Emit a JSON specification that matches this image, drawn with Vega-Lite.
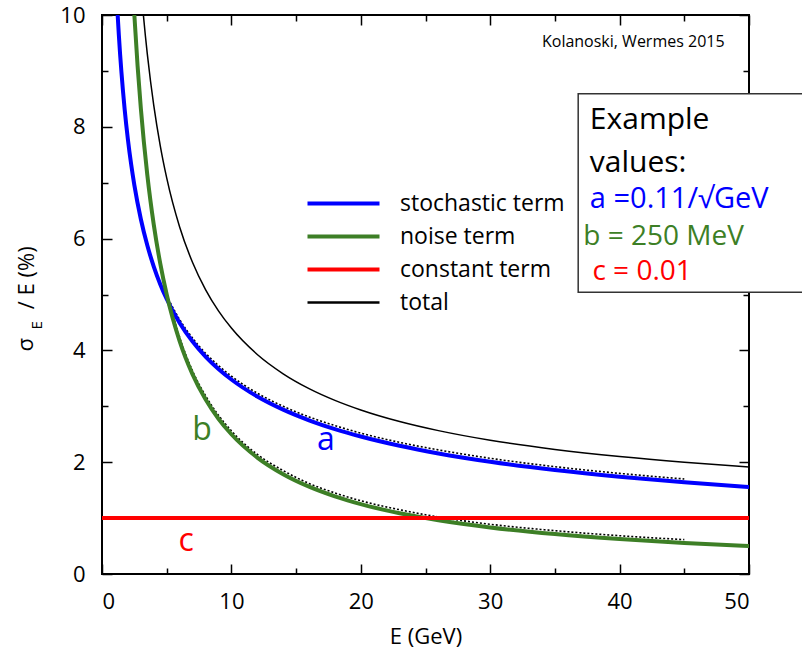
{
  "$schema": "https://vega.github.io/schema/vega-lite/v6.json",
  "width": 647,
  "height": 559,
  "autosize": {"type": "none"},
  "padding": {"left": 102, "top": 15, "right": 53, "bottom": 83},
  "background": "white",
  "config": {
    "view": {"stroke": "black", "strokeWidth": 2},
    "axis": {"domain": false, "grid": false, "tickColor": "black", "tickWidth": 1.5, "labelFont": "Open Sans", "labelFontSize": 22, "labelColor": "black", "titleFont": "Open Sans", "titleFontSize": 22, "titleFontWeight": "normal", "titleColor": "black"},
    "text": {"font": "Open Sans"}
  },
  "layer": [
    {
      "data": {"values": [
        {"E": 5, "v": 4.98, "s": "a"}, {"E": 6, "v": 4.55, "s": "a"}, {"E": 7, "v": 4.22, "s": "a"}, {"E": 8, "v": 3.95, "s": "a"}, {"E": 9, "v": 3.73, "s": "a"}, {"E": 10, "v": 3.54, "s": "a"}, {"E": 12, "v": 3.235, "s": "a"}, {"E": 14, "v": 3.0, "s": "a"}, {"E": 16, "v": 2.81, "s": "a"}, {"E": 18, "v": 2.655, "s": "a"}, {"E": 20, "v": 2.52, "s": "a"}, {"E": 23, "v": 2.355, "s": "a"}, {"E": 26, "v": 2.22, "s": "a"}, {"E": 30, "v": 2.07, "s": "a"}, {"E": 35, "v": 1.92, "s": "a"}, {"E": 40, "v": 1.8, "s": "a"}, {"E": 45, "v": 1.7, "s": "a"},
        {"E": 5.5, "v": 4.61, "s": "b"}, {"E": 6, "v": 4.23, "s": "b"}, {"E": 7, "v": 3.63, "s": "b"}, {"E": 8, "v": 3.19, "s": "b"}, {"E": 9, "v": 2.84, "s": "b"}, {"E": 10, "v": 2.56, "s": "b"}, {"E": 12, "v": 2.14, "s": "b"}, {"E": 14, "v": 1.85, "s": "b"}, {"E": 16, "v": 1.62, "s": "b"}, {"E": 18, "v": 1.45, "s": "b"}, {"E": 20, "v": 1.31, "s": "b"}, {"E": 23, "v": 1.15, "s": "b"}, {"E": 26, "v": 1.02, "s": "b"}, {"E": 30, "v": 0.89, "s": "b"}, {"E": 35, "v": 0.775, "s": "b"}, {"E": 40, "v": 0.685, "s": "b"}, {"E": 45, "v": 0.615, "s": "b"}
      ]},
      "mark": {"type": "line", "interpolate": "monotone", "color": "black", "strokeWidth": 1.6, "strokeDash": [2, 2], "clip": true},
      "encoding": {
        "x": {"field": "E", "type": "quantitative", "scale": {"domain": [0, 50], "nice": false},
          "axis": {"orient": "top", "values": [0, 5, 10, 15, 20, 25, 30, 35, 40, 45, 50], "labels": false, "title": null,
            "tickSize": {"condition": {"test": "datum.value % 10 === 0", "value": -10}, "value": -6}}},
        "y": {"field": "v", "type": "quantitative", "scale": {"domain": [0, 10], "nice": false},
          "axis": {"orient": "right", "values": [0, 1, 2, 3, 4, 5, 6, 7, 8, 9, 10], "labels": false, "title": null,
            "tickSize": {"condition": {"test": "datum.value % 2 === 0", "value": -10}, "value": -6}}},
        "detail": {"field": "s"}
      }
    },
    {
      "data": {"values": [
        {"E": 1.21, "v": 10.0, "term": "stochastic term"}, {"E": 1.3, "v": 9.648, "term": "stochastic term"}, {"E": 1.4, "v": 9.297, "term": "stochastic term"}, {"E": 1.5, "v": 8.981, "term": "stochastic term"}, {"E": 1.75, "v": 8.315, "term": "stochastic term"}, {"E": 2, "v": 7.778, "term": "stochastic term"}, {"E": 2.25, "v": 7.333, "term": "stochastic term"}, {"E": 2.5, "v": 6.957, "term": "stochastic term"}, {"E": 3, "v": 6.351, "term": "stochastic term"}, {"E": 3.5, "v": 5.88, "term": "stochastic term"}, {"E": 4, "v": 5.5, "term": "stochastic term"}, {"E": 4.5, "v": 5.185, "term": "stochastic term"}, {"E": 5, "v": 4.919, "term": "stochastic term"}, {"E": 6, "v": 4.491, "term": "stochastic term"}, {"E": 7, "v": 4.158, "term": "stochastic term"}, {"E": 8, "v": 3.889, "term": "stochastic term"}, {"E": 9, "v": 3.667, "term": "stochastic term"}, {"E": 10, "v": 3.479, "term": "stochastic term"}, {"E": 12, "v": 3.175, "term": "stochastic term"}, {"E": 14, "v": 2.94, "term": "stochastic term"}, {"E": 16, "v": 2.75, "term": "stochastic term"}, {"E": 18, "v": 2.593, "term": "stochastic term"}, {"E": 20, "v": 2.46, "term": "stochastic term"}, {"E": 23, "v": 2.294, "term": "stochastic term"}, {"E": 26, "v": 2.157, "term": "stochastic term"}, {"E": 30, "v": 2.008, "term": "stochastic term"}, {"E": 35, "v": 1.859, "term": "stochastic term"}, {"E": 40, "v": 1.739, "term": "stochastic term"}, {"E": 45, "v": 1.64, "term": "stochastic term"}, {"E": 50, "v": 1.556, "term": "stochastic term"},
        {"E": 2.5, "v": 10.0, "term": "noise term"}, {"E": 2.75, "v": 9.091, "term": "noise term"}, {"E": 3, "v": 8.333, "term": "noise term"}, {"E": 3.5, "v": 7.143, "term": "noise term"}, {"E": 4, "v": 6.25, "term": "noise term"}, {"E": 4.5, "v": 5.556, "term": "noise term"}, {"E": 5, "v": 5.0, "term": "noise term"}, {"E": 6, "v": 4.167, "term": "noise term"}, {"E": 7, "v": 3.571, "term": "noise term"}, {"E": 8, "v": 3.125, "term": "noise term"}, {"E": 9, "v": 2.778, "term": "noise term"}, {"E": 10, "v": 2.5, "term": "noise term"}, {"E": 12, "v": 2.083, "term": "noise term"}, {"E": 14, "v": 1.786, "term": "noise term"}, {"E": 16, "v": 1.5625, "term": "noise term"}, {"E": 18, "v": 1.389, "term": "noise term"}, {"E": 20, "v": 1.25, "term": "noise term"}, {"E": 23, "v": 1.087, "term": "noise term"}, {"E": 26, "v": 0.962, "term": "noise term"}, {"E": 30, "v": 0.833, "term": "noise term"}, {"E": 35, "v": 0.714, "term": "noise term"}, {"E": 40, "v": 0.625, "term": "noise term"}, {"E": 45, "v": 0.556, "term": "noise term"}, {"E": 50, "v": 0.5, "term": "noise term"},
        {"E": 0, "v": 1, "term": "constant term"}, {"E": 50, "v": 1, "term": "constant term"}
      ]},
      "mark": {"type": "line", "interpolate": "monotone", "clip": true, "strokeCap": "butt", "strokeWidth": 4},
      "encoding": {
        "x": {"field": "E", "type": "quantitative", "scale": {"domain": [0, 50], "nice": false},
          "axis": {"orient": "bottom", "values": [0, 5, 10, 15, 20, 25, 30, 35, 40, 45, 50], "labelExpr": "datum.value % 10 === 0 ? datum.label : ''", "labelPadding": 27, "title": "E (GeV)", "titlePadding": 14,
            "tickSize": {"condition": {"test": "datum.value % 10 === 0", "value": -10}, "value": -6}}},
        "y": {"field": "v", "type": "quantitative", "scale": {"domain": [0, 10], "nice": false},
          "axis": {"orient": "left", "values": [0, 1, 2, 3, 4, 5, 6, 7, 8, 9, 10], "labelExpr": "datum.value % 2 === 0 ? datum.label : ''", "labelPadding": 27, "title": null,
            "tickSize": {"condition": {"test": "datum.value % 2 === 0", "value": -10}, "value": -6}}},
        "color": {"field": "term", "type": "nominal",
          "scale": {"domain": ["stochastic term", "noise term", "constant term", "total"], "range": ["#0000ff", "#3d7f26", "#ff0000", "#000000"]},
          "legend": {"orient": "none", "legendX": 230, "legendY": 177, "title": null, "symbolType": "stroke", "symbolSize": 5184, "symbolStrokeWidth": 4, "labelFont": "Open Sans", "labelFontSize": 23, "labelColor": "black", "labelOffset": 45, "rowPadding": 9, "padding": 0, "labelLimit": 300,
            "encode": {"symbols": {"update": {"strokeWidth": {"signal": "datum.value === 'total' ? 2.5 : 4"}, "stroke": {"signal": "datum.value === 'total' ? '#444444' : scale('color', datum.value)"}}}}}}
      }
    },
    {
      "data": {"values": [
        {"E": 3.2, "v": 9.993, "term": "total"}, {"E": 3.35, "v": 9.634, "term": "total"}, {"E": 3.5, "v": 9.305, "term": "total"}, {"E": 3.75, "v": 8.815, "term": "total"}, {"E": 4, "v": 8.385, "term": "total"}, {"E": 4.5, "v": 7.665, "term": "total"}, {"E": 5, "v": 7.085, "term": "total"}, {"E": 6, "v": 6.207, "term": "total"}, {"E": 7, "v": 5.572, "term": "total"}, {"E": 8, "v": 5.088, "term": "total"}, {"E": 9, "v": 4.707, "term": "total"}, {"E": 10, "v": 4.399, "term": "total"}, {"E": 12, "v": 3.927, "term": "total"}, {"E": 14, "v": 3.582, "term": "total"}, {"E": 16, "v": 3.317, "term": "total"}, {"E": 18, "v": 3.107, "term": "total"}, {"E": 20, "v": 2.935, "term": "total"}, {"E": 23, "v": 2.728, "term": "total"}, {"E": 26, "v": 2.565, "term": "total"}, {"E": 30, "v": 2.393, "term": "total"}, {"E": 35, "v": 2.229, "term": "total"}, {"E": 40, "v": 2.101, "term": "total"}, {"E": 45, "v": 1.999, "term": "total"}, {"E": 50, "v": 1.916, "term": "total"}
      ]},
      "mark": {"type": "line", "interpolate": "monotone", "clip": true, "strokeWidth": 1.5},
      "encoding": {
        "x": {"field": "E", "type": "quantitative", "scale": {"domain": [0, 50], "nice": false}, "axis": null},
        "y": {"field": "v", "type": "quantitative", "scale": {"domain": [0, 10], "nice": false}, "axis": null},
        "color": {"field": "term", "type": "nominal"}
      }
    },
    {
      "data": {"values": [{"x1": 36.8, "x2": 54.6, "y1": 8.59, "y2": 5.04}]},
      "mark": {"type": "rect", "fill": "white", "stroke": "#333333", "strokeWidth": 1.5},
      "encoding": {
        "x": {"field": "x1", "type": "quantitative", "scale": {"domain": [0, 50], "nice": false}, "axis": null},
        "x2": {"field": "x2"},
        "y": {"field": "y1", "type": "quantitative", "scale": {"domain": [0, 10], "nice": false}, "axis": null},
        "y2": {"field": "y2"}
      }
    },
    {
      "data": {"values": [{"x": 37.7, "y": 8.12, "t": "Example"}, {"x": 37.7, "y": 7.35, "t": "values:"}]},
      "mark": {"type": "text", "align": "left", "baseline": "middle", "fontSize": 30, "color": "black"},
      "encoding": {
        "x": {"field": "x", "type": "quantitative", "scale": {"domain": [0, 50], "nice": false}, "axis": null},
        "y": {"field": "y", "type": "quantitative", "scale": {"domain": [0, 10], "nice": false}, "axis": null},
        "text": {"field": "t"}
      }
    },
    {
      "data": {"values": [{"x": 37.7, "y": 6.7, "t": "a =0.11/√GeV"}]},
      "mark": {"type": "text", "align": "left", "baseline": "middle", "fontSize": 29, "color": "#0000ff"},
      "encoding": {
        "x": {"field": "x", "type": "quantitative", "scale": {"domain": [0, 50], "nice": false}, "axis": null},
        "y": {"field": "y", "type": "quantitative", "scale": {"domain": [0, 10], "nice": false}, "axis": null},
        "text": {"field": "t"}
      }
    },
    {
      "data": {"values": [{"x": 37.2, "y": 6.02, "t": "b = 250 MeV"}]},
      "mark": {"type": "text", "align": "left", "baseline": "middle", "fontSize": 28, "color": "#3d7f26"},
      "encoding": {
        "x": {"field": "x", "type": "quantitative", "scale": {"domain": [0, 50], "nice": false}, "axis": null},
        "y": {"field": "y", "type": "quantitative", "scale": {"domain": [0, 10], "nice": false}, "axis": null},
        "text": {"field": "t"}
      }
    },
    {
      "data": {"values": [{"x": 37.9, "y": 5.4, "t": "c = 0.01"}]},
      "mark": {"type": "text", "align": "left", "baseline": "middle", "fontSize": 28, "color": "#ff0000"},
      "encoding": {
        "x": {"field": "x", "type": "quantitative", "scale": {"domain": [0, 50], "nice": false}, "axis": null},
        "y": {"field": "y", "type": "quantitative", "scale": {"domain": [0, 10], "nice": false}, "axis": null},
        "text": {"field": "t"}
      }
    },
    {
      "data": {"values": [{"x": 17.3, "y": 2.4, "t": "a"}]},
      "mark": {"type": "text", "align": "center", "baseline": "middle", "fontSize": 32, "color": "#0000ff"},
      "encoding": {
        "x": {"field": "x", "type": "quantitative", "scale": {"domain": [0, 50], "nice": false}, "axis": null},
        "y": {"field": "y", "type": "quantitative", "scale": {"domain": [0, 10], "nice": false}, "axis": null},
        "text": {"field": "t"}
      }
    },
    {
      "data": {"values": [{"x": 7.73, "y": 2.58, "t": "b"}]},
      "mark": {"type": "text", "align": "center", "baseline": "middle", "fontSize": 32, "color": "#3d7f26"},
      "encoding": {
        "x": {"field": "x", "type": "quantitative", "scale": {"domain": [0, 50], "nice": false}, "axis": null},
        "y": {"field": "y", "type": "quantitative", "scale": {"domain": [0, 10], "nice": false}, "axis": null},
        "text": {"field": "t"}
      }
    },
    {
      "data": {"values": [{"x": 6.5, "y": 0.59, "t": "c"}]},
      "mark": {"type": "text", "align": "center", "baseline": "middle", "fontSize": 32, "color": "#ff0000"},
      "encoding": {
        "x": {"field": "x", "type": "quantitative", "scale": {"domain": [0, 50], "nice": false}, "axis": null},
        "y": {"field": "y", "type": "quantitative", "scale": {"domain": [0, 10], "nice": false}, "axis": null},
        "text": {"field": "t"}
      }
    },
    {
      "data": {"values": [{"x": 34.0, "y": 9.52, "t": "Kolanoski, Wermes 2015"}]},
      "mark": {"type": "text", "align": "left", "baseline": "middle", "fontSize": 16, "color": "black"},
      "encoding": {
        "x": {"field": "x", "type": "quantitative", "scale": {"domain": [0, 50], "nice": false}, "axis": null},
        "y": {"field": "y", "type": "quantitative", "scale": {"domain": [0, 10], "nice": false}, "axis": null},
        "text": {"field": "t"}
      }
    },
    {
      "data": {"values": [{"x": -5.87, "y": 4.1, "t": "σ"}, {"x": -5.8, "y": 5.3, "t": "/ E  (%)"}]},
      "mark": {"type": "text", "align": "center", "baseline": "middle", "fontSize": 22, "angle": 270, "color": "black"},
      "encoding": {
        "x": {"field": "x", "type": "quantitative", "scale": {"domain": [0, 50], "nice": false}, "axis": null},
        "y": {"field": "y", "type": "quantitative", "scale": {"domain": [0, 10], "nice": false}, "axis": null},
        "text": {"field": "t"}
      }
    },
    {
      "data": {"values": [{"x": -5.05, "y": 4.45, "t": "E"}]},
      "mark": {"type": "text", "align": "center", "baseline": "middle", "fontSize": 15, "angle": 270, "color": "black"},
      "encoding": {
        "x": {"field": "x", "type": "quantitative", "scale": {"domain": [0, 50], "nice": false}, "axis": null},
        "y": {"field": "y", "type": "quantitative", "scale": {"domain": [0, 10], "nice": false}, "axis": null},
        "text": {"field": "t"}
      }
    }
  ],
  "resolve": {"axis": {"x": "independent", "y": "independent"}}
}
